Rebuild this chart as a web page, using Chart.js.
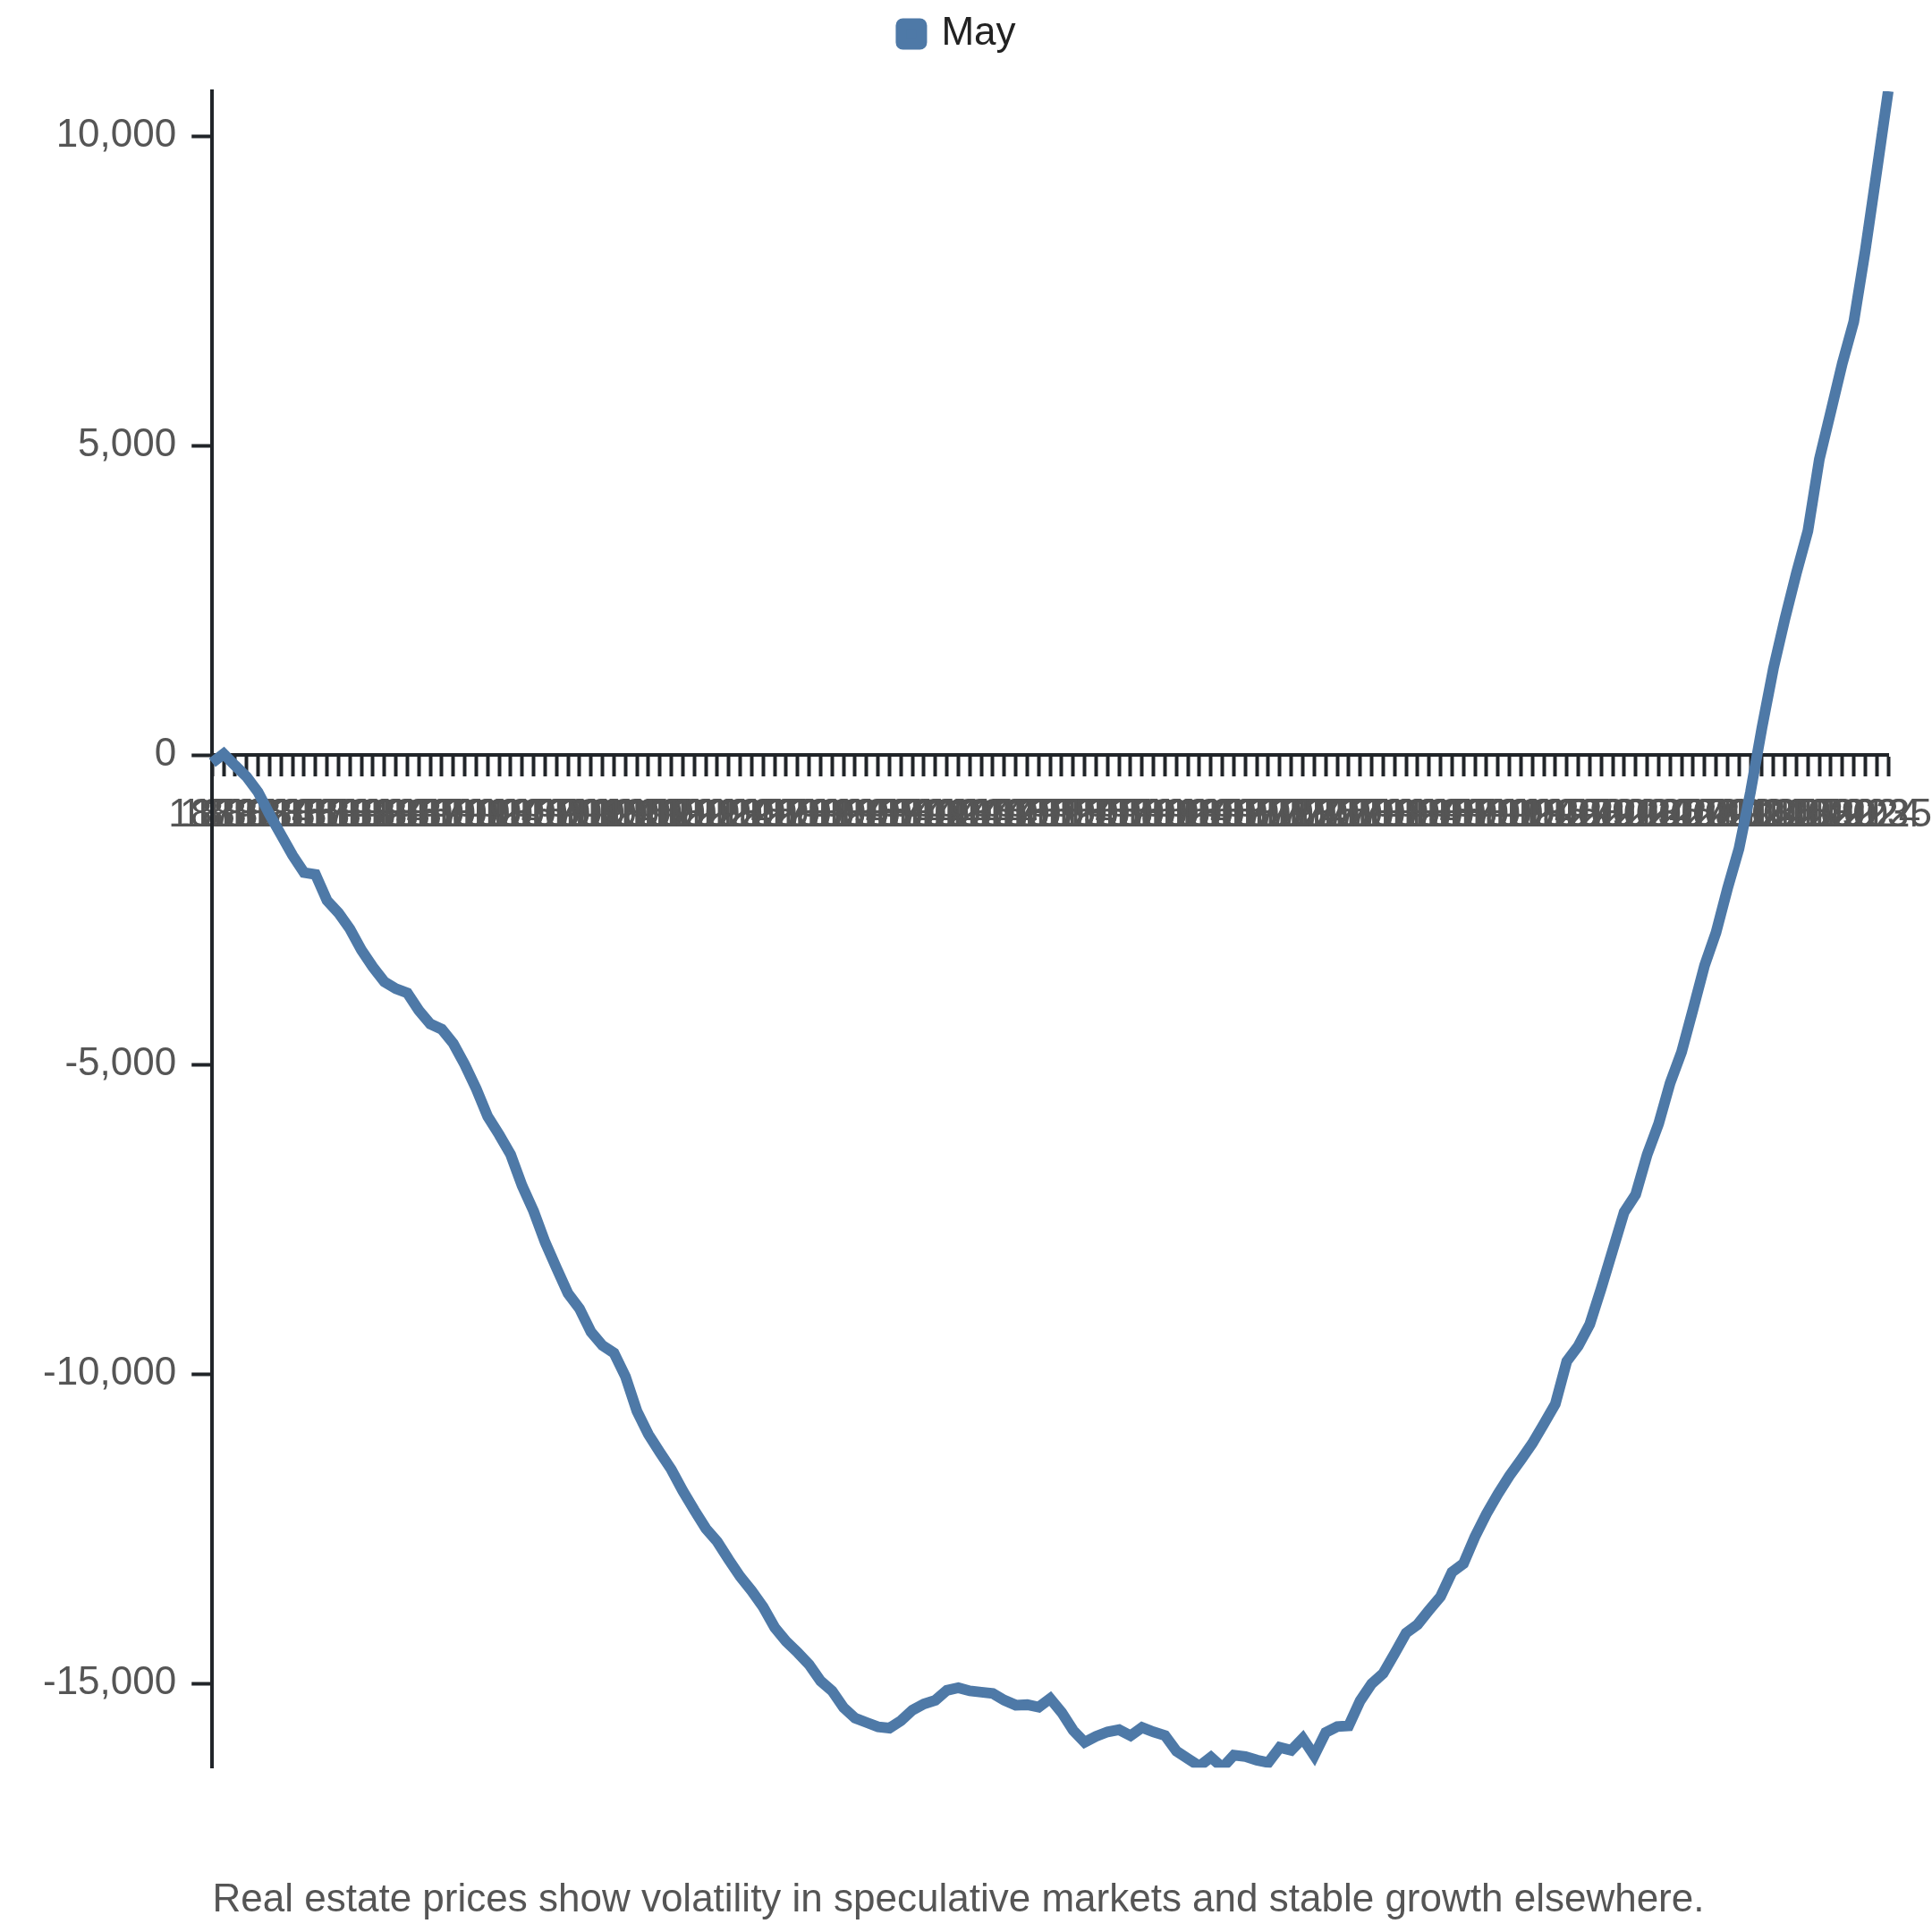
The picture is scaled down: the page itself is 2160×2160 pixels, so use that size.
<!DOCTYPE html>
<html>
<head>
<meta charset="utf-8">
<script src="https://cdn.jsdelivr.net/npm/chart.js@4/dist/chart.umd.min.js"></script>
<style>
  html, body { margin: 0; padding: 0; background: #fff; }
  #wrap { width: 2160px; height: 2160px; }
</style>
</head>
<body>
<div id="wrap"><canvas id="myChart"></canvas></div>
<script>
// 年份 (x 軸)
var years = [
  1879,
  1880,1881,1882,1883,1884,1885,1886,1887,1888,1889,
  1890,1891,1892,1893,1894,1895,1896,1897,1898,1899,
  1900,1901,1902,1903,1904,1905,1906,1907,1908,1909,
  1910,1911,1912,1913,1914,1915,1916,1917,1918,1919,
  1920,1921,1922,1923,1924,1925,1926,1927,1928,1929,
  1930,1931,1932,1933,1934,1935,1936,1937,1938,1939,
  1940,1941,1942,1943,1944,1945,1946,1947,1948,1949,
  1950,1951,1952,1953,1954,1955,1956,1957,1958,1959,
  1960,1961,1962,1963,1964,1965,1966,1967,1968,1969,
  1970,1971,1972,1973,1974,1975,1976,1977,1978,1979,
  1980,1981,1982,1983,1984,1985,1986,1987,1988,1989,
  1990,1991,1992,1993,1994,1995,1996,1997,1998,1999,
  2000,2001,2002,2003,2004,2005,2006,2007,2008,2009,
  2010,2011,2012,2013,2014,2015,2016,2017,2018,2019,
  2020,2021,2022,2023,2024,2025
];

// May 數據
var mayValues = [
  -125, 20, -170, -350, -600, -960, -1290, -1620, -1900, -1930,
  -2350, -2550, -2810, -3150, -3425, -3665, -3775, -3845, -4125, -4345,
  -4430, -4660, -5000, -5390, -5840, -6135, -6455, -6960, -7370, -7870,
  -8290, -8700, -8945, -9320, -9540, -9660, -10040, -10600, -10975, -11265,
  -11545, -11890, -12200, -12495, -12710, -13000, -13275, -13505, -13765, -14095,
  -14320, -14500, -14695, -14960, -15120, -15390, -15560, -15630, -15700, -15720,
  -15600, -15430, -15330, -15270, -15110, -15070, -15120, -15140, -15160, -15270,
  -15350, -15343, -15382, -15242, -15469, -15758, -15950, -15854, -15782, -15747,
  -15844, -15710, -15782, -15840, -16094, -16215, -16335, -16190, -16359, -16157,
  -16180, -16238, -16277, -16032, -16080, -15887, -16166, -15791, -15696, -15685,
  -15280, -15004, -14838, -14517, -14185, -14048, -13817, -13596, -13200, -13062,
  -12629, -12261, -11939, -11645, -11387, -11121, -10808, -10485, -9795, -9547,
  -9198, -8617, -8000, -7384, -7100, -6455, -5958, -5299, -4798, -4108,
  -3400, -2866, -2157, -1512, -600, 440, 1400, 2200, 2940, 3620,
  4780, 5550, 6326, 7000, 8150, 9430, 10724
];

// y 軸刻度
var yTicks = [-15000, -10000, -5000, 0, 5000, 10000];

var seriesName = 'May';
var caption = 'Real estate prices show volatility in speculative markets and stable growth elsewhere.';

Chart.defaults.font.family = "'Liberation Sans', Arial, sans-serif";

// legend 下方多留一點空間
var legendGap = {
  id: 'legendGap',
  beforeInit: function(chart) {
    var fit = chart.legend.fit;
    chart.legend.fit = function() {
      fit.bind(chart.legend)();
      this.height += 32;
    };
  }
};

var axisColor = '#212529';
var lineColor = '#4e79a7';
var lineWidth = 12;
var myChart;
function render() {
  var canvas = document.getElementById('myChart').getContext('2d');
  myChart = new Chart(canvas, {
    type: 'line',
    data: {
      labels: years,
      datasets: [{
        label: seriesName,
        data: mayValues,
        borderColor: lineColor,
        backgroundColor: lineColor,
        borderWidth: lineWidth,
        pointRadius: 0,
        tension: 0,
        fill: false
      }]
    },
    options: {
      responsive: true,
      maintainAspectRatio: false,
      animation: false,
      layout: {
        padding: { left: 31, right: 48, top: 6, bottom: 0 }
      },
      plugins: {
        legend: {
          position: 'top',
          labels: {
            font: { size: 44 },
            color: '#222',
            boxWidth: 35 - lineWidth,
            boxHeight: 35 - lineWidth,
            padding: 10,
            useBorderRadius: true,
            borderRadius: 2
          }
        },
        title: { // 說明文字放在下方
          display: true,
          position: 'bottom',
          text: caption,
          color: '#555',
          font: { size: 44, weight: 'normal' },
          padding: { top: 122, bottom: 9 }
        },
        tooltip: { enabled: false }
      },
      scales: {
        x: {
          position: { y: 0 },
          grid: { drawOnChartArea: false, tickLength: 22, tickWidth: 4, tickColor: axisColor },
          border: { color: axisColor, width: 4 },
          ticks: {
            autoSkip: false,
            maxRotation: 0,
            minRotation: 0,
            padding: 0,
            color: '#555',
            font: { size: 44, lineHeight: 2.1 }
          }
        },
        y: {
          min: Math.min.apply(null, mayValues),
          max: Math.max.apply(null, mayValues),
          afterBuildTicks: function(axis) {
            axis.ticks = yTicks.map(function(v) { return { value: v }; });
          },
          grid: { drawOnChartArea: false, tickLength: 23, tickWidth: 4, tickColor: axisColor },
          border: { color: axisColor, width: 4 },
          ticks: {
            padding: 17,
            color: '#555',
            font: { size: 44 }
          }
        }
      }
    },
    plugins: [legendGap]
  });
}
render();
</script>
</body>
</html>
